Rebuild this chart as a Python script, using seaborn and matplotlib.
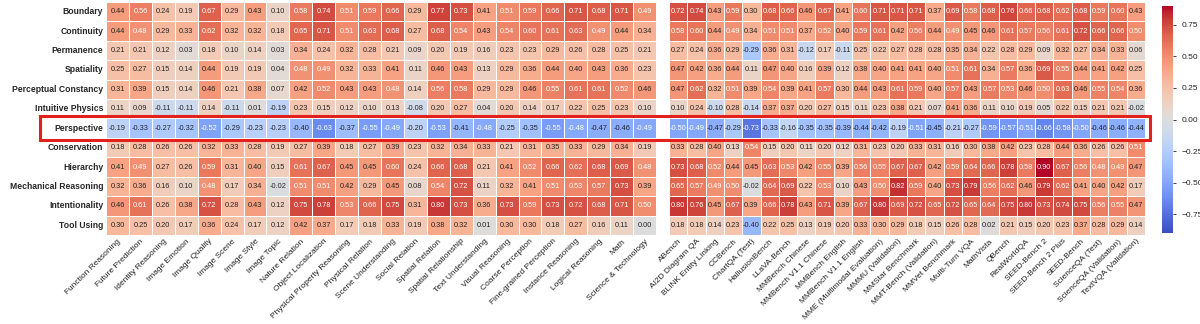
import numpy as np
import pandas as pd
import matplotlib
matplotlib.use("Agg")
import matplotlib.pyplot as plt
import seaborn as sns
from matplotlib.patches import Rectangle

sns.set_theme(style="white")
plt.rcParams['font.family'] = ['Liberation Sans', 'DejaVu Sans']

rows = ["Boundary", "Continuity", "Permanence", "Spatiality", "Perceptual Constancy",
        "Intuitive Physics", "Perspective", "Conservation", "Hierarchy",
        "Mechanical Reasoning", "Intentionality", "Tool Using"]

left_cols = ["Function Reasoning", "Future Prediction", "Identity Reasoning", "Image Emotion",
             "Image Quality", "Image Scene", "Image Style", "Image Topic", "Nature Relation",
             "Object Localization", "Physical Property Reasoning", "Physical Relation",
             "Scene Understanding", "Social Relation", "Spatial Relation", "Spatial Relationship",
             "Text Understanding", "Visual Reasoning", "Coarse Perception", "Fine-grained Perception",
             "Instance Reasoning", "Logical Reasoning", "Math", "Science & Technology"]

right_cols = ["ABench", "AI2D Diagram QA", "BLINK Entity Linking", "CCBench", "ChartQA (Test)",
              "HallusionBench", "LLaVA-Bench", "MMBench Chinese", "MMBench V1.1 Chinese",
              "MMBench English", "MMBench V1.1 English", "MME (Multimodal Evaluation)",
              "MMMU (Validation)", "MMStar Benchmark", "MMT-Bench (Validation)", "MMVet Benchmark",
              "Multi-Turn VQA", "MathVista", "QBench", "RealWorldQA", "SEED-Bench 2",
              "SEED-Bench 2 Plus", "SEED-Bench", "ScienceQA (Test)", "ScienceQA (Validation)",
              "TextVQA (Validation)"]

boundary_l = [0.44, 0.56, 0.24, 0.19, 0.67, 0.29, 0.43, 0.10, 0.58, 0.74, 0.51, 0.59, 0.66, 0.29, 0.77, 0.73, 0.41, 0.51, 0.59, 0.66, 0.71, 0.68, 0.71, 0.49]
continuity_l = [0.44, 0.48, 0.29, 0.33, 0.62, 0.32, 0.32, 0.18, 0.65, 0.71, 0.51, 0.63, 0.68, 0.27, 0.68, 0.54, 0.43, 0.54, 0.60, 0.61, 0.63, 0.49, 0.44, 0.34]
permanence_l = [0.21, 0.21, 0.12, 0.03, 0.18, 0.10, 0.14, 0.03, 0.34, 0.24, 0.32, 0.28, 0.21, 0.09, 0.20, 0.19, 0.16, 0.23, 0.23, 0.29, 0.26, 0.28, 0.25, 0.21]
spatiality_l = [0.25, 0.27, 0.15, 0.14, 0.44, 0.19, 0.19, 0.04, 0.48, 0.49, 0.32, 0.33, 0.41, 0.11, 0.46, 0.43, 0.13, 0.29, 0.36, 0.44, 0.40, 0.43, 0.36, 0.23]
perceptual_l = [0.31, 0.39, 0.15, 0.14, 0.46, 0.21, 0.38, 0.07, 0.42, 0.52, 0.43, 0.43, 0.48, 0.14, 0.56, 0.58, 0.29, 0.29, 0.46, 0.55, 0.61, 0.61, 0.52, 0.46]
intuitive_l = [0.11, 0.09, -0.11, -0.11, 0.14, -0.11, 0.01, -0.19, 0.23, 0.15, 0.12, 0.10, 0.13, -0.08, 0.20, 0.27, 0.04, 0.20, 0.14, 0.17, 0.22, 0.25, 0.23, 0.10]
perspective_l = [-0.19, -0.33, -0.27, -0.32, -0.52, -0.29, -0.23, -0.23, -0.40, -0.63, -0.37, -0.55, -0.49, -0.20, -0.53, -0.41, -0.48, -0.25, -0.35, -0.55, -0.48, -0.47, -0.46, -0.49]
conservation_l = [0.18, 0.28, 0.26, 0.26, 0.32, 0.33, 0.28, 0.19, 0.27, 0.39, 0.18, 0.27, 0.39, 0.23, 0.32, 0.34, 0.33, 0.21, 0.31, 0.35, 0.33, 0.29, 0.34, 0.19]
hierarchy_l = [0.41, 0.49, 0.27, 0.26, 0.59, 0.31, 0.40, 0.15, 0.61, 0.67, 0.45, 0.45, 0.60, 0.24, 0.66, 0.68, 0.21, 0.41, 0.52, 0.66, 0.62, 0.68, 0.69, 0.48]
mechanical_l = [0.32, 0.36, 0.16, 0.10, 0.48, 0.17, 0.34, -0.02, 0.51, 0.51, 0.42, 0.29, 0.45, 0.08, 0.54, 0.72, 0.11, 0.32, 0.41, 0.51, 0.53, 0.57, 0.73, 0.39]
intentionality_l = [0.46, 0.61, 0.26, 0.38, 0.72, 0.28, 0.43, 0.12, 0.75, 0.78, 0.53, 0.66, 0.75, 0.31, 0.80, 0.73, 0.36, 0.73, 0.59, 0.73, 0.72, 0.68, 0.71, 0.50]
tool_l = [0.30, 0.25, 0.20, 0.17, 0.36, 0.24, 0.17, 0.12, 0.42, 0.37, 0.17, 0.18, 0.33, 0.19, 0.38, 0.32, 0.01, 0.30, 0.30, 0.18, 0.27, 0.16, 0.11, 0.00]

boundary_r = [0.72, 0.74, 0.43, 0.59, 0.30, 0.68, 0.66, 0.46, 0.67, 0.41, 0.60, 0.71, 0.71, 0.71, 0.37, 0.69, 0.58, 0.68, 0.76, 0.66, 0.68, 0.62, 0.68, 0.59, 0.60, 0.43]
continuity_r = [0.58, 0.60, 0.44, 0.49, 0.34, 0.51, 0.51, 0.37, 0.52, 0.40, 0.59, 0.61, 0.42, 0.56, 0.44, 0.49, 0.45, 0.46, 0.61, 0.57, 0.56, 0.61, 0.72, 0.66, 0.66, 0.50]
permanence_r = [0.27, 0.24, 0.36, 0.29, -0.29, 0.36, 0.31, -0.12, 0.17, -0.11, 0.25, 0.22, 0.27, 0.28, 0.28, 0.35, 0.34, 0.22, 0.28, 0.29, 0.09, 0.32, 0.27, 0.34, 0.33, 0.06]
spatiality_r = [0.47, 0.42, 0.36, 0.44, 0.11, 0.47, 0.40, 0.16, 0.39, 0.12, 0.38, 0.40, 0.41, 0.41, 0.40, 0.51, 0.61, 0.34, 0.57, 0.36, 0.69, 0.55, 0.44, 0.41, 0.42, 0.25]
perceptual_r = [0.47, 0.62, 0.32, 0.51, 0.39, 0.54, 0.39, 0.41, 0.57, 0.30, 0.44, 0.43, 0.61, 0.59, 0.40, 0.57, 0.43, 0.57, 0.53, 0.46, 0.50, 0.63, 0.46, 0.55, 0.54, 0.36]
intuitive_r = [0.10, 0.24, -0.10, 0.28, -0.14, 0.37, 0.37, 0.20, 0.27, 0.15, 0.11, 0.23, 0.38, 0.21, 0.07, 0.41, 0.36, 0.11, 0.10, 0.19, 0.05, 0.22, 0.15, 0.21, 0.21, -0.02]
perspective_r = [-0.50, -0.49, -0.47, -0.29, -0.73, -0.33, -0.16, -0.35, -0.35, -0.39, -0.44, -0.42, -0.19, -0.51, -0.45, -0.21, -0.27, -0.59, -0.57, -0.51, -0.66, -0.58, -0.50, -0.46, -0.46, -0.44]
conservation_r = [0.33, 0.28, 0.40, 0.13, 0.54, 0.15, 0.20, 0.11, 0.20, 0.12, 0.31, 0.23, 0.20, 0.33, 0.31, 0.16, 0.30, 0.38, 0.42, 0.23, 0.28, 0.44, 0.36, 0.26, 0.26, 0.51]
hierarchy_r = [0.73, 0.68, 0.52, 0.44, 0.45, 0.63, 0.53, 0.42, 0.55, 0.39, 0.56, 0.55, 0.67, 0.67, 0.42, 0.59, 0.64, 0.66, 0.78, 0.58, 0.90, 0.67, 0.56, 0.48, 0.49, 0.47]
mechanical_r = [0.65, 0.57, 0.49, 0.50, -0.02, 0.64, 0.69, 0.22, 0.53, 0.10, 0.43, 0.50, 0.82, 0.59, 0.40, 0.73, 0.79, 0.56, 0.62, 0.46, 0.79, 0.62, 0.41, 0.40, 0.42, 0.17]
intentionality_r = [0.80, 0.76, 0.45, 0.67, 0.39, 0.66, 0.78, 0.43, 0.71, 0.39, 0.67, 0.80, 0.69, 0.72, 0.65, 0.72, 0.65, 0.64, 0.75, 0.80, 0.73, 0.74, 0.75, 0.56, 0.55, 0.47]
tool_r = [0.18, 0.18, 0.14, 0.23, -0.40, 0.22, 0.25, 0.13, 0.19, 0.20, 0.33, 0.30, 0.29, 0.18, 0.15, 0.26, 0.28, 0.02, 0.21, 0.15, 0.20, 0.23, 0.37, 0.28, 0.29, 0.14]

left_df = pd.DataFrame([boundary_l, continuity_l, permanence_l, spatiality_l, perceptual_l,
                        intuitive_l, perspective_l, conservation_l, hierarchy_l, mechanical_l,
                        intentionality_l, tool_l], index=rows, columns=left_cols)
right_df = pd.DataFrame([boundary_r, continuity_r, permanence_r, spatiality_r, perceptual_r,
                         intuitive_r, perspective_r, conservation_r, hierarchy_r, mechanical_r,
                         intentionality_r, tool_r], index=rows, columns=right_cols)

W, H = 1200, 324
fig = plt.figure(figsize=(12, 3.24), dpi=100)
ax1 = fig.add_axes([106 / W, 1 - 235 / H, 550 / W, 233 / H])
ax2 = fig.add_axes([669 / W, 1 - 235 / H, 476 / W, 233 / H])
cax = fig.add_axes([1162 / W, 1 - 233 / H, 11 / W, 227 / H])

common = dict(cmap="coolwarm", vmin=-0.9, vmax=0.9, annot=True, fmt=".2f",
              linewidths=0.6, linecolor="white",
              annot_kws={"fontsize": 5.3})
sns.heatmap(left_df, ax=ax1, cbar=False, **common)
sns.heatmap(right_df, ax=ax2, cbar=True, cbar_ax=cax, **common)

for ax in (ax1, ax2):
    ax.set_xticklabels(ax.get_xticklabels(), rotation=45, ha="right",
                       rotation_mode="anchor", fontsize=6, color="#222222")
    ax.tick_params(axis="both", length=0, pad=2)
    ax.set_xlabel("")
    ax.set_ylabel("")
ax1.set_yticklabels(ax1.get_yticklabels(), rotation=0, fontsize=6.2, fontweight="bold")
ax2.set_yticks([])

cbar = ax2.collections[0].colorbar
cbar.outline.set_visible(False)
cbar.set_ticks([-0.75, -0.5, -0.25, 0.0, 0.25, 0.5, 0.75])
cbar.ax.tick_params(labelsize=6, length=2.5, width=0.6)

# highlight rectangle around the Perspective row
fig.canvas.draw()
row_idx = rows.index("Perspective")
y_top = ax1.transData.transform((0, row_idx))[1]
y_bot = ax1.transData.transform((0, row_idx + 1))[1]
pad = 2.5
rect = Rectangle((40 / W, (y_bot - pad) / H), (1150 - 40) / W, (y_top - y_bot + 2 * pad) / H,
                 transform=fig.transFigure, fill=False, edgecolor="#e3211c",
                 linewidth=2.2, clip_on=False, zorder=10)
fig.patches.append(rect)

fig.savefig("out.png", dpi=100)
